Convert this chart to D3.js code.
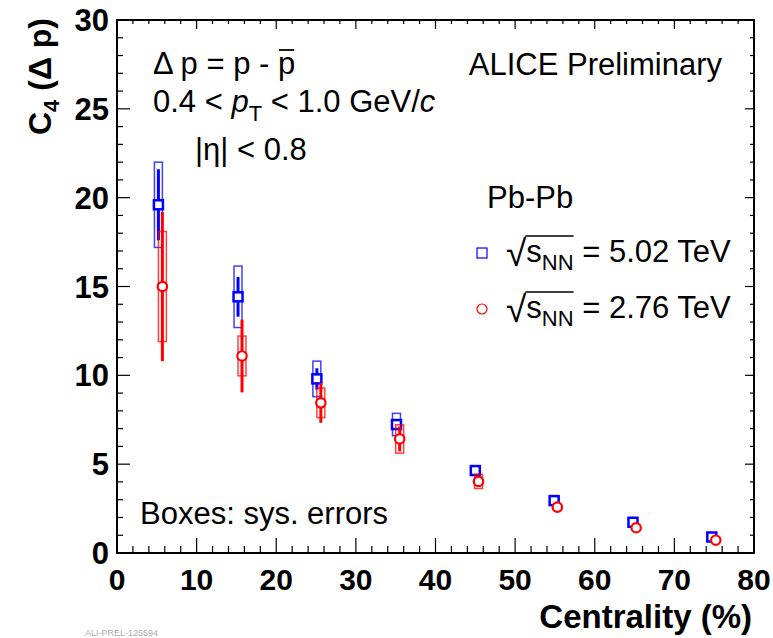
<!DOCTYPE html>
<html>
<head>
<meta charset="utf-8">
<script src="https://cdn.jsdelivr.net/npm/d3@7"></script>
<style>
  body { margin: 0; background: #fff; }
  text { font-family: "Liberation Sans", Arial, Helvetica, sans-serif; }
</style>
</head>
<body>
<div id="chart"></div>
<script>
// centrality bins (%)
var centX = [5, 15, 25, 35, 45, 55, 65, 75];

// Pb-Pb 5.02 TeV (blue squares)
var x502 = [5.2, 15.2, 25.1, 35.1, 45.0, 54.9, 64.8, 74.7];
var c4_502 = [19.6, 14.42, 9.8, 7.23, 4.64, 2.95, 1.73, 0.9];
var stat502 = [2.0, 1.12, 0.6, 0.3, 0.12, 0.08, 0.05, 0.05];
var sys502 = [2.4, 1.73, 1.0, 0.63, 0.2, 0.15, 0.15, 0.15];

// Pb-Pb 2.76 TeV (red circles)
var x276 = [5.7, 15.7, 25.6, 35.5, 45.4, 55.3, 65.2, 75.2];
var c4_276 = [15.0, 11.09, 8.45, 6.42, 4.03, 2.58, 1.42, 0.72];
var stat276 = [4.2, 2.05, 1.12, 0.7, 0.2, 0.1, 0.05, 0.05];
var sys276 = [3.1, 1.12, 0.83, 0.8, 0.4, 0.12, 0.1, 0.1];

var xTicks = [0, 10, 20, 30, 40, 50, 60, 70, 80];
var yTicks = [0, 5, 10, 15, 20, 25, 30];

var svgWidth = 773, svgHeight = 638;
var svg = d3.select("#chart").append("svg")
  .attr("width", svgWidth)
  .attr("height", svgHeight);

var xScale = d3.scaleLinear().domain([0, 80]).range([117, 754]);
var yScale = d3.scaleLinear().domain([0, 30]).range([553, 20]);

// frame
svg.append("rect")
  .attr("x", xScale(0)).attr("y", yScale(30))
  .attr("width", xScale(80) - xScale(0))
  .attr("height", yScale(0) - yScale(30))
  .attr("fill", "none").attr("stroke", "#000").attr("stroke-width", 2);

// ticks (inside, all four sides)
var xMinor = d3.range(0, 80.01, 2);
var yMinor = d3.range(0, 30.01, 1);
var tickG = svg.append("g").attr("stroke", "#000").attr("stroke-width", 1.2);
xMinor.forEach(function(v) {
  var major = v % 10 === 0;
  var len = major ? 15 : 7;
  tickG.append("line").attr("x1", xScale(v)).attr("x2", xScale(v))
    .attr("y1", yScale(0)).attr("y2", yScale(0) - len);
  tickG.append("line").attr("x1", xScale(v)).attr("x2", xScale(v))
    .attr("y1", yScale(30)).attr("y2", yScale(30) + (major ? 9 : 4));
});
yMinor.forEach(function(v) {
  var major = v % 5 === 0;
  tickG.append("line").attr("y1", yScale(v)).attr("y2", yScale(v))
    .attr("x1", xScale(0)).attr("x2", xScale(0) + (major ? 13 : 6));
  tickG.append("line").attr("y1", yScale(v)).attr("y2", yScale(v))
    .attr("x1", xScale(80)).attr("x2", xScale(80) - (major ? 9 : 4));
});

// tick labels
svg.append("g").selectAll("text").data(xTicks).enter().append("text")
  .attr("x", function(d) { return xScale(d); })
  .attr("y", 590)
  .attr("text-anchor", "middle")
  .attr("font-size", 30).attr("font-weight", "bold")
  .text(function(d) { return d; });

svg.append("g").selectAll("text").data(yTicks).enter().append("text")
  .attr("x", 109)
  .attr("y", function(d) { return yScale(d) + 11; })
  .attr("text-anchor", "end")
  .attr("font-size", 31).attr("font-weight", "bold")
  .text(function(d) { return d; });

// axis titles
svg.append("text")
  .attr("x", 752).attr("y", 628)
  .attr("text-anchor", "end")
  .attr("font-size", 33).attr("font-weight", "bold")
  .text("Centrality (%)");

var yt = svg.append("text")
  .attr("transform", "translate(51,18) rotate(-90)")
  .attr("text-anchor", "end")
  .attr("font-size", 32).attr("font-weight", "bold");
yt.append("tspan").text("C");
yt.append("tspan").attr("font-size", 22).attr("dy", 8).text("4");
yt.append("tspan").attr("dy", -8).text(" (\u0394 p)");

// boxes = systematic, bars = statistical
function drawSeries(xs, ys, stat, sys, color, shape) {
  var g = svg.append("g");
  g.selectAll("rect.sys").data(ys).enter().append("rect")
    .attr("x", function(d, i) { return xScale(xs[i] - 0.5); })
    .attr("y", function(d, i) { return yScale(d + sys[i]); })
    .attr("width", function(d, i) { return xScale(xs[i] + 0.5) - xScale(xs[i] - 0.5); })
    .attr("height", function(d, i) { return yScale(d - sys[i]) - yScale(d + sys[i]); })
    .attr("fill", "none").attr("stroke", color)
    .attr("stroke-opacity", 0.75).attr("stroke-width", 1.5);
  g.selectAll("line.stat").data(ys).enter().append("line")
    .attr("x1", function(d, i) { return xScale(xs[i]); })
    .attr("x2", function(d, i) { return xScale(xs[i]); })
    .attr("y1", function(d, i) { return yScale(d + stat[i]); })
    .attr("y2", function(d, i) { return yScale(d - stat[i]); })
    .attr("stroke", color).attr("stroke-width", 3);
  if (shape === "square") {
    g.selectAll("rect.mk").data(ys).enter().append("rect")
      .attr("x", function(d, i) { return xScale(xs[i]) - 4.5; })
      .attr("y", function(d) { return yScale(d) - 4.5; })
      .attr("width", 9).attr("height", 9)
      .attr("fill", "#fff").attr("stroke", color).attr("stroke-width", 2.5);
  } else {
    g.selectAll("circle.mk").data(ys).enter().append("circle")
      .attr("cx", function(d, i) { return xScale(xs[i]); })
      .attr("cy", function(d) { return yScale(d); })
      .attr("r", 4.7)
      .attr("fill", "#fff").attr("stroke", color).attr("stroke-width", 2.2);
  }
}
drawSeries(x502, c4_502, stat502, sys502, "#0000ff", "square");
drawSeries(x276, c4_276, stat276, sys276, "#ff0000", "circle");

// annotations
var fs = 31;
var t1 = svg.append("text").attr("x", 153).attr("y", 74).attr("font-size", fs);
t1.append("tspan").text("\u0394 p = p - ");
t1.append("tspan").text("p");

var t2 = svg.append("text").attr("x", 153).attr("y", 112).attr("font-size", fs);
t2.append("tspan").text("0.4 < ");
t2.append("tspan").attr("font-style", "italic").text("p");
t2.append("tspan").attr("font-size", 22).attr("dy", 9).text("T");
t2.append("tspan").attr("dy", -9).text(" < 1.0 GeV/");
t2.append("tspan").attr("font-style", "italic").text("c");

svg.append("text").attr("x", 195).attr("y", 160).attr("font-size", fs)
  .text("|\u03b7| < 0.8");

svg.append("text").attr("x", 722).attr("y", 75).attr("font-size", fs)
  .attr("text-anchor", "end").text("ALICE Preliminary");

svg.append("text").attr("x", 487).attr("y", 208).attr("font-size", fs)
  .text("Pb-Pb");

svg.append("text").attr("x", 140).attr("y", 524).attr("font-size", fs)
  .text("Boxes: sys. errors");

svg.append("text").attr("x", 85).attr("y", 636).attr("font-size", 9)
  .attr("fill", "#aaa").text("ALI-PREL-125594");

// overline on anti-proton
var tn = t1.node();
var n = tn.getNumberOfChars();
var ps = tn.getStartPositionOfChar(n - 1), pe = tn.getEndPositionOfChar(n - 1);
svg.append("line").attr("x1", ps.x + 1).attr("x2", pe.x - 1)
  .attr("y1", 74 - 24).attr("y2", 74 - 24)
  .attr("stroke", "#000").attr("stroke-width", 1.8);

// legend
var legendE = ["= 5.02 TeV", "= 2.76 TeV"];
var legendY = [262, 318];
var legendColor = ["#0000ff", "#ff0000"];
legendE.forEach(function(lab, k) {
  var by = legendY[k];
  if (k === 0) {
    svg.append("rect").attr("x", 477).attr("y", by - 14).attr("width", 10).attr("height", 10)
      .attr("fill", "none").attr("stroke", legendColor[k]).attr("stroke-width", 1.2);
  } else {
    svg.append("circle").attr("cx", 482).attr("cy", by - 9).attr("r", 5)
      .attr("fill", "none").attr("stroke", legendColor[k]).attr("stroke-width", 1.2);
  }
  var t = svg.append("text").attr("x", 506).attr("y", by).attr("font-size", fs);
  t.append("tspan").attr("font-size", 37).attr("dy", 4).text("\u221a");
  t.append("tspan").attr("dy", -4).text("s");
  t.append("tspan").attr("font-size", 22).attr("dy", 8).text("NN");
  t.append("tspan").attr("dy", -8).text(" " + lab);
  var node = t.node();
  var s0 = node.getStartPositionOfChar(1);
  var s1 = node.getEndPositionOfChar(3);
  svg.append("line").attr("x1", s0.x - 1).attr("x2", s1.x)
    .attr("y1", by - 26).attr("y2", by - 26)
    .attr("stroke", "#000").attr("stroke-width", 1.3);
});
</script>
</body>
</html>
